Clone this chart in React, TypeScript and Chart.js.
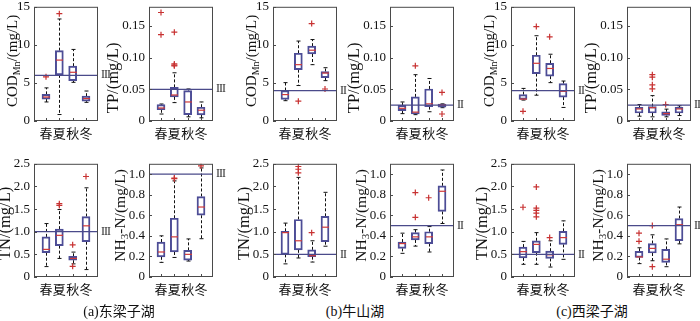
import React, { useEffect, useRef } from 'react';
import { Chart, registerables } from 'chart.js';
Chart.register(...registerables);

// ---------- data ----------
const seasons = ['春', '夏', '秋', '冬'];

const codTicks = [0, 5, 10, 15];
const codTickLabels = ['0', '5', '10', '15'];
const tpTicks = [0, 0.05, 0.1, 0.15];
const tpTickLabels = ['0', '0.05', '0.10', '0.15'];
const tnTicks = [0, 0.5, 1, 1.5, 2, 2.5];
const tnTickLabels = ['0', '0.5', '1.0', '1.5', '2.0', '2.5'];
const nhTicks = [0, 0.2, 0.4, 0.6, 0.8, 1.0];
const nhTickLabels = ['0', '0.2', '0.4', '0.6', '0.8', '1.0'];

// [min, q1, median, q3, max] per season
const codA = [[2.5, 2.88, 3.15, 3.5, 4.35], [0.85, 6.06, 8.0, 9.24, 13.4], [5.08, 5.3, 6.4, 7.2, 9.4], [2.45, 2.6, 2.95, 3.26, 3.94]];
const codAOut = [[1, 5.8], [2, 14.1]];
const tpA = [[0.011, 0.0177, 0.0205, 0.0258, 0.0268], [0.029, 0.038, 0.041, 0.053, 0.076], [0.0066, 0.01, 0.03, 0.048, 0.0505], [0.005, 0.0096, 0.017, 0.0217, 0.03]];
const tpAOut = [[1, 0.171], [1, 0.136], [2, 0.14], [2, 0.09], [2, 0.088], [2, 0.087]];
const codB = [[2.67, 2.84, 3.47, 4.0, 5.04], [4.66, 6.74, 7.4, 8.9, 10.5], [7.4, 8.8, 9.3, 9.83, 10.7], [5.3, 5.7, 6.3, 6.5, 7.0]];
const codBOut = [[2, 2.6], [3, 12.8], [4, 4.2]];
const tpB = [[0.0116, 0.0162, 0.02, 0.0247, 0.03], [0.01, 0.011, 0.014, 0.038, 0.073], [0.0146, 0.0227, 0.027, 0.0505, 0.067], [0.021, 0.0217, 0.025, 0.0268, 0.027]];
const tpBOut = [[2, 0.087], [4, 0.045], [4, 0.011]];
const codC = [[2.75, 2.84, 2.88, 3.47, 4.28], [3.39, 6.23, 7.58, 8.64, 11.2], [5.04, 5.89, 6.9, 7.58, 8.77], [1.78, 3.14, 3.9, 4.92, 5.25]];
const codCOut = [[1, 1.27], [2, 12.4], [3, 11.06]];
const tpC = [[0.0076, 0.0126, 0.019, 0.0217, 0.026], [0.0066, 0.0126, 0.021, 0.0227, 0.04], [0.0066, 0.0086, 0.0116, 0.0146, 0.0187], [0.0086, 0.0126, 0.019, 0.0217, 0.024]];
const tpCOut = [[2, 0.073], [2, 0.069], [2, 0.057], [2, 0.0505], [3, 0.026]];

const tnA = [[0.23, 0.536, 0.61, 0.886, 1.18], [0.41, 0.693, 0.92, 1.057, 1.49], [0.29, 0.371, 0.41, 0.457, 0.55], [0.164, 0.779, 1.13, 1.336, 1.97]];
const tnAOut = [[2, 1.62], [2, 1.58], [3, 0.71], [3, 0.236], [4, 2.22]];
const nhA = [[0.142, 0.196, 0.243, 0.34, 0.4], [0.19, 0.243, 0.39, 0.571, 0.934], [0.155, 0.164, 0.22, 0.259, 0.37], [0.372, 0.6, 0.68, 0.782, 1.06]];
const nhAOut = [[2, 0.962], [2, 0.955], [4, 1.08]];
const tnB = [[0.29, 0.5, 0.98, 1.01, 1.19], [0.42, 0.6, 0.8, 1.27, 2.2], [0.33, 0.45, 0.47, 0.6, 0.8], [0.68, 0.78, 1.1, 1.34, 1.87]];
const tnBOut = [[2, 2.44], [2, 2.38], [2, 2.3], [3, 0.98]];
const nhB = [[0.23, 0.278, 0.325, 0.34, 0.426], [0.3, 0.36, 0.39, 0.432, 0.46], [0.243, 0.325, 0.39, 0.44, 0.49], [0.52, 0.637, 0.833, 0.886, 1.04]];
const nhBOut = [[2, 0.82], [2, 0.58], [3, 0.77]];
const tnC = [[0.28, 0.42, 0.56, 0.66, 0.786], [0.28, 0.536, 0.72, 0.8, 0.98], [0.22, 0.41, 0.49, 0.57, 0.8], [0.39, 0.72, 0.87, 1.01, 1.24]];
const tnCOut = [[1, 1.54], [2, 1.99], [2, 1.52], [2, 1.47], [2, 1.41], [2, 1.33], [3, 0.87]];
const nhC = [[0.13, 0.19, 0.195, 0.25, 0.284], [0.158, 0.233, 0.278, 0.325, 0.41], [0.1, 0.142, 0.173, 0.268, 0.37], [0.322, 0.353, 0.508, 0.568, 0.68]];
const nhCOut = [[1, 0.426], [1, 0.347], [2, 0.5], [2, 0.1]];

// standards (grade lines)
const stdA = [6, 0.05, 1.0, 1.0];
const stdB = [4, 0.025, 0.5, 0.5];
const stdC = [4, 0.025, 0.5, 0.5];
const stdLabels = ['III', 'II', 'II'];
const captions = ['(a)东梁子湖', '(b)牛山湖', '(c)西梁子湖'];

// ---------- style ----------
const BOX_COLOR = '#4d4d96';
const STD_COLOR = '#4a4a8a';
const MED_COLOR = '#d03a3a';
const OUT_COLOR = '#c83232';
const FRAME_COLOR = '#4a4a4a';
const SERIF = '"Liberation Serif", "DejaVu Serif", serif';
const CJK = '"Noto Sans CJK SC", sans-serif';

const L = 46, R = 20, T = 8, B = 22;
const colLefts = [34, 149, 273, 390, 511, 627];
const PW = 64;
const rowTops = [3, 160];
const rowHeights = [118, 117];

type TitlePart = { t: string; sub?: boolean };

type PanelProps = {
  left: number; top: number; w: number; h: number;
  stats: number[][]; outliers: number[][];
  yMax: number; ticks: number[]; tickLabels: string[];
  std: number; stdLabel: string; title: TitlePart[]; titleDx: number; titleDy: number; titleSize: number;
};

function Panel(p: PanelProps) {
  const ref = useRef<HTMLCanvasElement | null>(null);
  useEffect(() => {
    const canvas = ref.current!;
    const bw = 8;
    const deco = {
      id: 'boxDeco',
      beforeDatasetsDraw(chart: any) {
        const ctx = chart.ctx; const xs = chart.scales.x; const ys = chart.scales.y;
        ctx.save();
        ctx.strokeStyle = '#111'; ctx.lineWidth = 1;
        p.stats.forEach((s, i) => {
          const x = Math.round(xs.getPixelForValue(i + 1)) + 0.5;
          const yMin = ys.getPixelForValue(s[0]), yQ1 = ys.getPixelForValue(s[1]);
          const yQ3 = ys.getPixelForValue(s[3]), yMax = ys.getPixelForValue(s[4]);
          ctx.setLineDash([3, 2]);
          ctx.beginPath(); ctx.moveTo(x, yQ3); ctx.lineTo(x, yMax); ctx.moveTo(x, yQ1); ctx.lineTo(x, yMin); ctx.stroke();
          ctx.setLineDash([]);
          ctx.beginPath(); ctx.moveTo(x - 2, yMax); ctx.lineTo(x + 2, yMax); ctx.moveTo(x - 2, yMin); ctx.lineTo(x + 2, yMin); ctx.stroke();
        });
        ctx.restore();
      },
      afterDatasetsDraw(chart: any) {
        const ctx = chart.ctx; const xs = chart.scales.x; const ys = chart.scales.y;
        const a = chart.chartArea;
        ctx.save();
        ctx.strokeStyle = MED_COLOR; ctx.lineWidth = 1.2;
        p.stats.forEach((s, i) => {
          const x = Math.round(xs.getPixelForValue(i + 1)) + 0.5;
          const y = ys.getPixelForValue(s[2]);
          ctx.beginPath(); ctx.moveTo(x - bw / 2 + 0.5, y); ctx.lineTo(x + bw / 2 - 0.5, y); ctx.stroke();
        });
        // standard line
        const ys0 = ys.getPixelForValue(p.std);
        ctx.strokeStyle = STD_COLOR; ctx.lineWidth = 1.3;
        ctx.beginPath(); ctx.moveTo(a.left, ys0); ctx.lineTo(a.right, ys0); ctx.stroke();
        // frame
        ctx.strokeStyle = FRAME_COLOR; ctx.lineWidth = 1;
        ctx.strokeRect(a.left + 0.5, a.top + 0.5, a.right - a.left - 1, a.bottom - a.top - 1);
        // inner ticks
        ctx.beginPath();
        ys.ticks.forEach((t: any) => {
          const y = Math.round(ys.getPixelForValue(t.value)) + 0.5;
          ctx.moveTo(a.left, y); ctx.lineTo(a.left + 3, y);
        });
        xs.ticks.forEach((t: any) => {
          const x = Math.round(xs.getPixelForValue(t.value)) + 0.5;
          ctx.moveTo(x, a.bottom); ctx.lineTo(x, a.bottom - 3);
        });
        ctx.stroke();
        // grade label
        ctx.fillStyle = '#333';
        ctx.font = '12px ' + SERIF;
        (ctx as any).letterSpacing = '-1px';
        ctx.textAlign = 'left'; ctx.textBaseline = 'middle';
        ctx.fillText(p.stdLabel, a.right + 3, ys0);
        (ctx as any).letterSpacing = '0px';
        // y title
        const big = p.titleSize, small = Math.round(p.titleSize * 0.68);
        ctx.translate(a.left - p.titleDx, (a.top + a.bottom) / 2 + p.titleDy);
        ctx.rotate(-Math.PI / 2);
        let total = 0;
        p.title.forEach((part) => {
          ctx.font = (part.sub ? small : big) + 'px ' + SERIF;
          total += ctx.measureText(part.t).width;
        });
        let cx = -total / 2;
        ctx.fillStyle = '#111';
        ctx.textAlign = 'left'; ctx.textBaseline = 'middle';
        p.title.forEach((part) => {
          ctx.font = (part.sub ? small : big) + 'px ' + SERIF;
          ctx.fillText(part.t, cx, part.sub ? 4 : 0);
          cx += ctx.measureText(part.t).width;
        });
        ctx.restore();
      },
    };
    const chart = new Chart(canvas, {
      type: 'bar',
      data: {
        datasets: [
          {
            type: 'bar',
            data: p.stats.map((s, i) => ({ x: i + 1, y: [s[1], s[3]] })) as any,
            barThickness: bw,
            borderColor: BOX_COLOR,
            backgroundColor: 'rgba(0,0,0,0)',
            borderWidth: 1.3,
            borderSkipped: false,
          } as any,
          {
            type: 'scatter',
            data: p.outliers.map((o) => ({ x: o[0], y: o[1] })),
            pointStyle: 'cross',
            radius: 3,
            borderColor: OUT_COLOR,
            backgroundColor: OUT_COLOR,
            borderWidth: 1.2,
          } as any,
        ],
      },
      options: {
        animation: false,
        responsive: false,
        maintainAspectRatio: false,
        layout: { padding: { left: 0, right: R, top: T, bottom: 0 } },
        plugins: { legend: { display: false }, tooltip: { enabled: false } },
        scales: {
          x: {
            type: 'linear', min: 0.1, max: 4.9, offset: false,
            grid: { display: false, drawTicks: false }, border: { display: false },
            ticks: {
              padding: 4, autoSkip: false, maxRotation: 0, color: '#111',
              font: { family: CJK, size: 13 },
              callback: (v: any) => seasons[Math.round(v) - 1] ?? '',
            },
            afterBuildTicks: (s: any) => { s.ticks = [1, 2, 3, 4].map((v) => ({ value: v })); },
            afterFit: (s: any) => { s.height = B; },
          },
          y: {
            type: 'linear', min: 0, max: p.yMax,
            grid: { display: false, drawTicks: false }, border: { display: false },
            ticks: {
              padding: 4, color: '#111', font: { family: SERIF, size: 13 },
              callback: (v: any) => { const k = p.ticks.findIndex((t) => Math.abs(t - v) < 1e-9); return k >= 0 ? p.tickLabels[k] : ''; },
            },
            afterBuildTicks: (s: any) => { s.ticks = p.ticks.map((v) => ({ value: v })); },
            afterFit: (s: any) => { s.width = L; },
          },
        },
      } as any,
      plugins: [deco],
    });
    return () => chart.destroy();
  }, []);
  return (
    <canvas
      ref={ref}
      width={L + p.w + R}
      height={T + p.h + B}
      style={{ position: 'absolute', left: p.left - L, top: p.top - T, width: L + p.w + R, height: T + p.h + B }}
    />
  );
}

const codTitle: TitlePart[] = [{ t: 'COD' }, { t: 'Mn', sub: true }, { t: '/(mg/L)' }];
const tpTitle: TitlePart[] = [{ t: 'TP/(mg/L)' }];
const tnTitle: TitlePart[] = [{ t: 'TN/(mg/L)' }];
const nhTitle: TitlePart[] = [{ t: 'NH' }, { t: '3', sub: true }, { t: '-N/(mg/L)' }];

export default function App() {
  const lakes = [
    { cod: codA, codO: codAOut, tp: tpA, tpO: tpAOut, tn: tnA, tnO: tnAOut, nh: nhA, nhO: nhAOut, std: stdA },
    { cod: codB, codO: codBOut, tp: tpB, tpO: tpBOut, tn: tnB, tnO: tnBOut, nh: nhB, nhO: nhBOut, std: stdB },
    { cod: codC, codO: codCOut, tp: tpC, tpO: tpCOut, tn: tnC, tnO: tnCOut, nh: nhC, nhO: nhCOut, std: stdC },
  ];
  const panels: PanelProps[] = [];
  lakes.forEach((lk, li) => {
    const c0 = colLefts[li * 2], c1 = colLefts[li * 2 + 1];
    const lab = stdLabels[li];
    panels.push({ left: c0, top: rowTops[0], w: PW, h: rowHeights[0], stats: lk.cod, outliers: lk.codO, yMax: 15, ticks: codTicks, tickLabels: codTickLabels, std: lk.std[0], stdLabel: lab, title: codTitle, titleDx: 21, titleDy: -3, titleSize: 15 });
    panels.push({ left: c1, top: rowTops[0], w: PW, h: rowHeights[0], stats: lk.tp, outliers: lk.tpO, yMax: 0.18, ticks: tpTicks, tickLabels: tpTickLabels, std: lk.std[1], stdLabel: lab, title: tpTitle, titleDx: 35, titleDy: 14, titleSize: 16.5 });
    panels.push({ left: c0, top: rowTops[1], w: PW, h: rowHeights[1], stats: lk.tn, outliers: lk.tnO, yMax: 2.5, ticks: tnTicks, tickLabels: tnTickLabels, std: lk.std[2], stdLabel: lab, title: tnTitle, titleDx: 28, titleDy: 3, titleSize: 16.5 });
    panels.push({ left: c1, top: rowTops[1], w: PW, h: rowHeights[1], stats: lk.nh, outliers: lk.nhO, yMax: 1.1, ticks: nhTicks, tickLabels: nhTickLabels, std: lk.std[3], stdLabel: lab, title: nhTitle, titleDx: 28, titleDy: -5, titleSize: 15.5 });
  });
  const capCenters = [119, 355, 592];
  return (
    <div style={{ position: 'fixed', left: 0, top: 0, width: 700, height: 321, background: '#fff', overflow: 'hidden' }}>
      {panels.map((p, i) => <Panel key={i} {...p} />)}
      {captions.map((c, i) => (
        <div key={c} style={{ position: 'absolute', left: capCenters[i] - 60, width: 120, top: 303, textAlign: 'center', fontFamily: '"Liberation Serif", "Noto Sans CJK SC", serif', fontSize: 14, color: '#111', lineHeight: '18px' }}>{c}</div>
      ))}
    </div>
  );
}
